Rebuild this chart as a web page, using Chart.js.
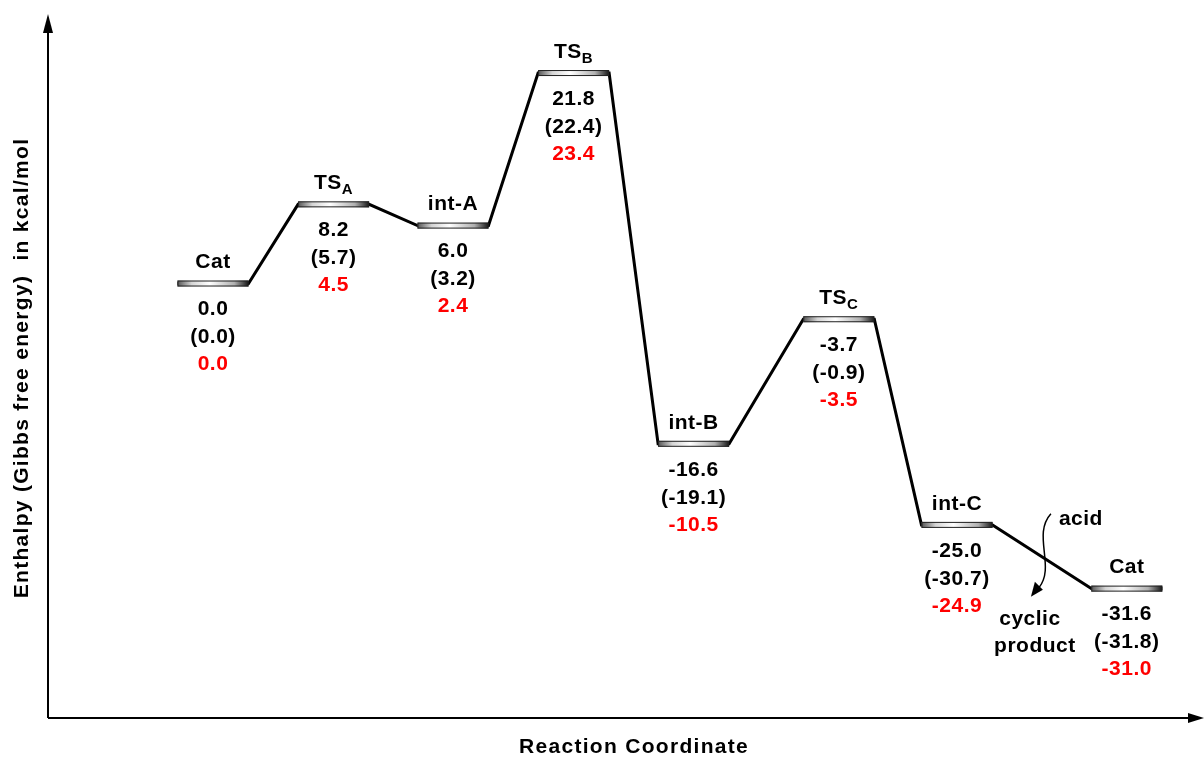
<!DOCTYPE html>
<html>
<head>
<meta charset="utf-8">
<script src="https://cdn.jsdelivr.net/npm/chart.js@4"></script>
<style>
  html, body { margin: 0; padding: 0; background: #fff; }
  #wrap { width: 1204px; height: 758px; }
</style>
</head>
<body>
<div id="wrap"><canvas id="profile" width="1204" height="758"></canvas></div>
<script>
const levelNames = ["Cat", "TS|A", "int-A", "TS|B", "int-B", "TS|C", "int-C", "Cat"];
const levelX = [1.375, 2.38, 3.375, 4.38, 5.38, 6.59, 7.575, 8.99];
const enthalpy = [0.0, 8.2, 6.0, 21.8, -16.6, -3.7, -25.0, -31.6];
const gibbs = [0.0, 5.7, 3.2, 22.4, -19.1, -0.9, -30.7, -31.8];
const redValues = [0.0, 4.5, 2.4, 23.4, -10.5, -3.5, -24.9, -31.0];
const xTitle = "Reaction Coordinate";
const yTitle = "Enthalpy (Gibbs free energy)  in kcal/mol";

const halfWidth = 0.296;
const FONT = '"Liberation Sans", Arial, sans-serif';

const pathPoints = [];
levelX.forEach((x, i) => {
  pathPoints.push({ x: x - halfWidth, y: enthalpy[i] });
  pathPoints.push({ x: x + halfWidth, y: enthalpy[i] });
});

const fmt = v => v.toFixed(1);

function drawName(ctx, name, cx, cy) {
  const parts = name.split("|");
  ctx.textBaseline = "middle";
  ctx.font = "bold 21px " + FONT;
  if (parts.length === 1) {
    ctx.textAlign = "center";
    ctx.fillText(name, cx, cy);
    return;
  }
  const w1 = ctx.measureText(parts[0]).width;
  ctx.font = "bold 15px " + FONT;
  const w2 = ctx.measureText(parts[1]).width;
  const start = cx - (w1 + w2) / 2;
  ctx.textAlign = "left";
  ctx.font = "bold 21px " + FONT;
  ctx.fillText(parts[0], start, cy);
  ctx.font = "bold 15px " + FONT;
  ctx.fillText(parts[1], start + w1, cy + 7);
}

const diagramPlugin = {
  id: "diagram",
  afterDatasetsDraw(chart) {
    const ctx = chart.ctx;
    const xs = chart.scales.x, ys = chart.scales.y;
    const area = chart.chartArea;
    ctx.save();

    // axes with arrowheads
    ctx.strokeStyle = "#000";
    ctx.fillStyle = "#000";
    ctx.lineWidth = 2;
    ctx.beginPath();
    ctx.moveTo(area.left, area.bottom);
    ctx.lineTo(area.left, 22);
    ctx.moveTo(area.left, area.bottom);
    ctx.lineTo(1196, area.bottom);
    ctx.stroke();
    ctx.beginPath();
    ctx.moveTo(area.left, 14);
    ctx.lineTo(area.left - 5, 33);
    ctx.lineTo(area.left + 5, 33);
    ctx.closePath();
    ctx.fill();
    ctx.beginPath();
    ctx.moveTo(1204, area.bottom);
    ctx.lineTo(1188, area.bottom - 5);
    ctx.lineTo(1188, area.bottom + 5);
    ctx.closePath();
    ctx.fill();

    // axis titles
    ctx.letterSpacing = "1.3px";
    ctx.font = "bold 21px " + FONT;
    ctx.textAlign = "center";
    ctx.textBaseline = "middle";
    ctx.fillText(xTitle, (area.left + area.right) / 2 + 10, 747);
    ctx.save();
    ctx.translate(22, (area.top + area.bottom) / 2);
    ctx.rotate(-Math.PI / 2);
    ctx.fillText(yTitle, 0, 0);
    ctx.restore();
    ctx.letterSpacing = "0.5px";

    // levels and labels
    levelX.forEach((x, i) => {
      const x0 = xs.getPixelForValue(x - halfWidth);
      const x1 = xs.getPixelForValue(x + halfWidth);
      const y = ys.getPixelForValue(enthalpy[i]);
      const cx = (x0 + x1) / 2;
      const g = ctx.createLinearGradient(x0, 0, x1, 0);
      g.addColorStop(0, "#555");
      g.addColorStop(0.2, "#d5d5d5");
      g.addColorStop(0.45, "#ffffff");
      g.addColorStop(0.8, "#b0b0b0");
      g.addColorStop(1, "#151515");
      ctx.fillStyle = g;
      ctx.fillRect(x0, y - 3, x1 - x0, 6);
      ctx.lineWidth = 1;
      ctx.strokeStyle = "#222";
      ctx.strokeRect(x0 + 0.5, y - 2.5, x1 - x0 - 1, 5);

      ctx.fillStyle = "#000";
      drawName(ctx, levelNames[i], cx, y - 21);
      ctx.font = "bold 21px " + FONT;
      ctx.textAlign = "center";
      ctx.textBaseline = "middle";
      ctx.fillText(fmt(enthalpy[i]), cx, y + 26);
      ctx.fillText("(" + fmt(gibbs[i]) + ")", cx, y + 54);
      ctx.fillStyle = "#ff0000";
      ctx.fillText(fmt(redValues[i]), cx, y + 81);
    });

    // acid / cyclic product annotation on the last step
    const n = levelX.length;
    const ax = (xs.getPixelForValue(levelX[n - 2] + halfWidth) + xs.getPixelForValue(levelX[n - 1] - halfWidth)) / 2;
    const ay = (ys.getPixelForValue(enthalpy[n - 2]) + ys.getPixelForValue(enthalpy[n - 1])) / 2;
    ctx.fillStyle = "#000";
    ctx.font = "bold 21px " + FONT;
    ctx.textAlign = "center";
    ctx.textBaseline = "middle";
    ctx.fillText("acid", ax + 39, ay - 38);
    ctx.fillText("cyclic", ax - 12, ay + 62);
    ctx.fillText("product", ax - 7, ay + 89);
    ctx.strokeStyle = "#000";
    ctx.lineWidth = 1.5;
    ctx.beginPath();
    ctx.moveTo(ax + 9, ay - 43);
    ctx.bezierCurveTo(ax - 10, ay - 22, ax + 14, ay + 10, ax - 3, ay + 31);
    ctx.stroke();
    ctx.beginPath();
    ctx.moveTo(ax - 11, ay + 40);
    ctx.lineTo(ax - 7, ay + 25);
    ctx.lineTo(ax + 1, ay + 33);
    ctx.closePath();
    ctx.fill();

    ctx.restore();
  }
};

new Chart(document.getElementById("profile"), {
  type: "line",
  data: {
    datasets: [{
      data: pathPoints,
      borderColor: "#000",
      borderWidth: 3,
      pointRadius: 0,
      tension: 0,
      fill: false
    }]
  },
  options: {
    responsive: false,
    animation: false,
    layout: { padding: { top: 18, right: 4, left: 0, bottom: 0 } },
    plugins: { legend: { display: false }, tooltip: { enabled: false } },
    scales: {
      x: {
        type: "linear",
        min: 0,
        max: 9.6,
        grid: { display: false },
        border: { display: false },
        ticks: { display: false },
        afterFit: s => { s.height = 40; }
      },
      y: {
        min: -45,
        max: 27.5,
        grid: { display: false },
        border: { display: false },
        ticks: { display: false },
        afterFit: s => { s.width = 48; }
      }
    }
  },
  plugins: [diagramPlugin]
});
</script>
</body>
</html>
